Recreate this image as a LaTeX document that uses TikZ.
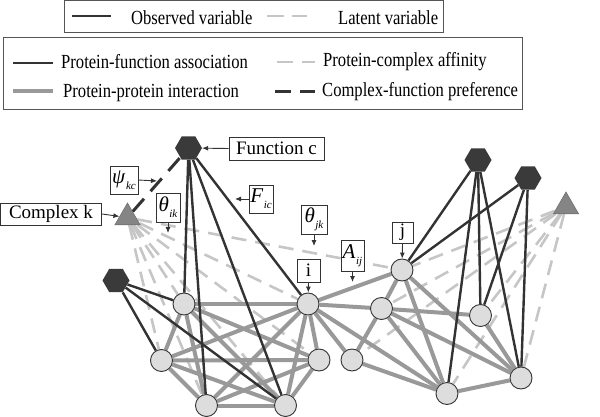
\documentclass[tikz,border=0pt]{standalone}
\usepackage{fontspec}
\setmainfont{Liberation Serif}
\usetikzlibrary{shapes.geometric,arrows.meta}
\pgfdeclarelayer{bg}
\pgfsetlayers{bg,main}
\definecolor{dk}{HTML}{333333}
\definecolor{hexc}{HTML}{3A3A3A}
\definecolor{ppi}{HTML}{999999}
\definecolor{lat}{HTML}{C6C6C6}
\definecolor{protc}{HTML}{DDDDDD}
\definecolor{tric}{HTML}{858585}
\definecolor{frame}{HTML}{555555}
\newcommand{\vsub}[2]{{\fontsize{21}{21}\selectfont\textit{#1}}\kern0.5pt\raisebox{-0.7ex}{\fontsize{11}{11}\selectfont\textit{#2}}}
\tikzset{
 prot/.style={circle, draw=dk, line width=0.9pt, fill=protc, minimum size=22pt, inner sep=0pt},
 func/.style={regular polygon, regular polygon sides=6, fill=hexc, minimum size=27pt, inner sep=0pt},
 cplx/.style={regular polygon, regular polygon sides=3, fill=tric, draw=tric!85!black, line width=0.6pt, minimum size=29pt, inner sep=0pt},
 pf/.style={draw=dk, line width=2.4pt},
 pp/.style={draw=ppi, line width=4pt},
 la/.style={draw=lat, line width=2.6pt, dash pattern=on 15pt off 9pt},
 cf/.style={draw=dk, line width=3pt, dash pattern=on 17pt off 10pt},
 lbl/.style={draw=dk, line width=0.9pt, fill=white, inner sep=0pt, font=\fontsize{19}{19}\selectfont},
 ptr/.style={draw=dk, line width=0.9pt, -{Latex[length=6pt,width=5pt]}},
 legbox/.style={draw=frame, line width=1pt, inner sep=0pt},
 legtxt/.style={anchor=base west, inner sep=0pt, font=\fontsize{20}{20}\selectfont},
}
\begin{document}
\begin{tikzpicture}[x=1pt,y=-1pt]
\useasboundingbox (0,0) rectangle (600,417);
% ---------- legend 1
\node[legbox, minimum width=379pt, minimum height=32pt] (leg1) at (253.5,17) {};
\coordinate (oa) at (72,16); \coordinate (ob) at (111,16);
\draw[pf] (oa) -- (ob);
\node[legtxt] (tobs) at (131,25) {\scalebox{0.83}[1]{Observed variable}};
\coordinate (lta) at (267,16); \coordinate (ltb) at (307,16);
\draw[draw=lat, line width=2.8pt, dash pattern=on 17pt off 8pt] (lta) -- (ltb);
\node[legtxt] (tlat) at (338,25) {\scalebox{0.83}[1]{Latent variable}};
% ---------- legend 2
\node[legbox, minimum width=519pt, minimum height=72pt] (leg2) at (262.5,74) {};
\coordinate (pfa) at (13,63); \coordinate (pfb) at (53,63);
\draw[pf] (pfa) -- (pfb);
\node[legtxt] (tpf) at (61,68.5) {\scalebox{0.83}[1]{Protein-function association}};
\coordinate (ppa) at (13,91); \coordinate (ppb) at (53,91);
\draw[pp] (ppa) -- (ppb);
\node[legtxt] (tpp) at (63,97.5) {\scalebox{0.83}[1]{Protein-protein interaction}};
\coordinate (laa) at (277,62); \coordinate (lab) at (315,62);
\draw[draw=lat, line width=2.8pt, dash pattern=on 16pt off 9pt] (laa) -- (lab);
\node[legtxt] (tla) at (323,67) {\scalebox{0.83}[1]{Protein-complex affinity}};
\coordinate (cfa) at (275,91.5); \coordinate (cfb) at (315,91.5);
\draw[draw=dk, line width=3pt, dash pattern=on 16pt off 9pt] (cfa) -- (cfb);
\node[legtxt] (tcf) at (322,97) {\scalebox{0.83}[1]{Complex-function preference}};
% ---------- function and complex nodes
\node[func] (Fc) at (188.5,148) {};
\node[func] (H2) at (116,280.5) {};
\node[func] (R1) at (478,160) {};
\node[func] (R2) at (528,178) {};
\node[cplx] (Ck) at (127.5,217.5) {};
\node[cplx] (Rt) at (566,206.5) {};
% ---------- proteins
\node[prot] (A) at (184,304) {};
\node[prot] (i) at (308,304) {};
\node[prot] (B) at (161.5,360.5) {};
\node[prot] (C) at (319,360) {};
\node[prot] (D) at (206.5,405.5) {};
\node[prot] (E) at (285.5,405.5) {};
\node[prot] (F) at (352,360) {};
\node[prot] (j) at (402,270) {};
\node[prot] (G) at (381.5,308.5) {};
\node[prot] (H) at (480.5,315.5) {};
\node[prot] (I) at (447,393.5) {};
\node[prot] (J) at (521,378) {};
% ---------- edges
\begin{pgfonlayer}{bg}
% latent protein-complex affinity
\foreach \t in {A,B,D,E,C,i,j} \draw[la] (Ck) -- (\t);
\foreach \t in {j,G,F,H,I,J} \draw[la] (Rt) -- (\t);
% protein-protein interaction
\foreach \a/\b in {A/i,A/B,A/C,A/D,A/E,i/B,i/C,i/D,i/E,B/C,B/D,B/E,C/D,C/E,D/E,
  i/j,i/G,i/F,i/I,j/G,j/I,j/J,G/H,G/F,G/I,G/J,F/I,I/J,H/J}
  \draw[pp] (\a) -- (\b);
% protein-function association
\foreach \a/\b in {Fc/A,Fc/D,Fc/E,Fc/i,H2/A,H2/B,H2/E,R1/j,R1/I,R1/H,R1/J,R2/j,R2/H,R2/J}
  \draw[pf] (\a) -- (\b);
% complex-function preference
\draw[cf] (Ck) -- (Fc);
\end{pgfonlayer}
% ---------- labels
\node[lbl, minimum width=101pt, minimum height=22pt] (lk) at (51,214) {Complex k};
\draw[ptr] (lk.east) -- (Ck);
\node[lbl, minimum width=95pt, minimum height=23pt] (lc) at (276.5,148.5) {Function c};
\draw[ptr] (lc.west) -- (Fc);
\node[lbl, minimum width=28pt, minimum height=28pt] (lpsi) at (124,180) {\vsub{ψ}{kc}};
\coordinate (psiT) at (157,181);
\draw[ptr] (lpsi.east) -- (psiT);
\node[lbl, minimum width=24pt, minimum height=29pt] (lthik) at (168,207.5) {\vsub{θ}{ik}};
\coordinate (thikT) at (168,233);
\draw[ptr] (lthik.south) -- (thikT);
\node[lbl, minimum width=24pt, minimum height=28pt] (lfic) at (261,199) {\vsub{F}{ic}};
\coordinate (ficT) at (235,199);
\draw[ptr] (lfic.west) -- (ficT);
\node[lbl, minimum width=26pt, minimum height=29pt] (lthjk) at (314,219.5) {\vsub{θ}{jk}};
\coordinate (thjkT) at (314,246);
\draw[ptr] (lthjk.south) -- (thjkT);
\node[lbl, minimum width=23pt, minimum height=23pt] (li) at (308.5,270.5) {i};
\draw[ptr] (li.south) -- (i);
\node[lbl, minimum width=23pt, minimum height=31pt] (laij) at (352.5,255.5) {\vsub{A}{ij}};
\coordinate (aijT) at (352.5,282);
\draw[ptr] (laij.south) -- (aijT);
\node[lbl, minimum width=21pt, minimum height=21pt] (lj) at (402.5,232.5) {j};
\draw[ptr] (lj.south) -- (j);
\end{tikzpicture}
\end{document}
